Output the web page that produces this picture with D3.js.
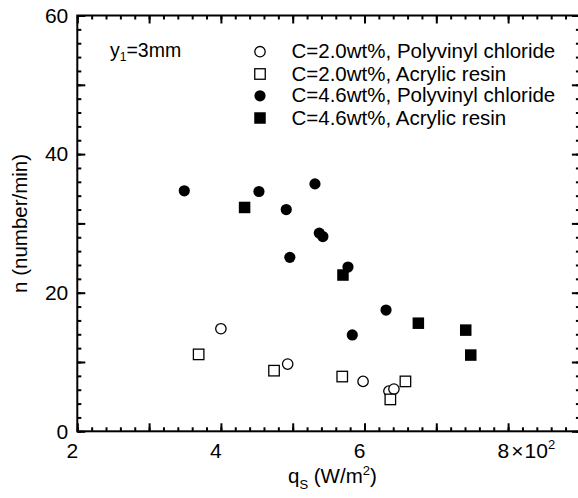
<!DOCTYPE html>
<html>
<head>
<meta charset="utf-8">
<title>n vs qs</title>
<script src="https://cdn.jsdelivr.net/npm/d3@7/dist/d3.min.js"></script>
<style>
body { margin: 0; background: #fff; }
svg { display: block; font-family: "Liberation Sans", Arial, Helvetica, sans-serif; }
</style>
</head>
<body>
<script>
// data (x in 10^2 W/m2, y in number/min)
var pvc20X = [4.00, 4.93, 5.98, 6.34, 6.41];
var pvc20Y = [14.8, 9.7, 7.2, 5.8, 6.1];
var acr20X = [3.69, 4.74, 5.69, 6.36, 6.57];
var acr20Y = [11.1, 8.75, 7.9, 4.6, 7.2];
var pvc46X = [3.49, 4.53, 4.91, 4.96, 5.31, 5.37, 5.42, 5.77, 5.83, 6.30];
var pvc46Y = [34.7, 34.6, 32.0, 25.1, 35.7, 28.6, 28.1, 23.7, 13.9, 17.5];
var acr46X = [4.33, 5.70, 6.75, 7.41, 7.48];
var acr46Y = [32.3, 22.55, 15.6, 14.6, 11.0];

var legendLabels = ["C=2.0wt%, Polyvinyl chloride", "C=2.0wt%, Acrylic resin",
                    "C=4.6wt%, Polyvinyl chloride", "C=4.6wt%, Acrylic resin"];
var xLabelTicks = [2, 4, 6, 8];
var yLabelTicks = [0, 20, 40, 60];

var series = [
  {xs: pvc20X, ys: pvc20Y, shape: "circle", fill: false},
  {xs: acr20X, ys: acr20Y, shape: "square", fill: false},
  {xs: pvc46X, ys: pvc46Y, shape: "circle", fill: true},
  {xs: acr46X, ys: acr46Y, shape: "square", fill: true}
];

var width = 578, height = 498;
var svg = d3.select("body").append("svg")
    .attr("width", width)
    .attr("height", height);

var x = d3.scaleLinear().domain([2, 9]).range([77.3, 579.9]);
var y = d3.scaleLinear().domain([0, 60]).range([431.3, 15.5]);

var majX = d3.range(2, 9.01, 1), minX = d3.range(2, 9.01, 0.2);
var majY = d3.range(0, 60.1, 10), minY = d3.range(0, 60.1, 2);

function tickStyle(g) {
  g.select(".domain").remove();
  g.selectAll("line").attr("stroke", "#000").attr("stroke-width", 2);
  g.selectAll("text").attr("fill", "#000").style("font-size", "21px");
}

// minor ticks, all four sides, pointing inward
svg.append("g").attr("transform", "translate(0," + y(0) + ")")
  .call(d3.axisBottom(x).tickValues(minX).tickSize(-4).tickFormat("")).call(tickStyle);
svg.append("g").attr("transform", "translate(0," + y(60) + ")")
  .call(d3.axisTop(x).tickValues(minX).tickSize(-4).tickFormat("")).call(tickStyle);
svg.append("g").attr("transform", "translate(" + x(2) + ",0)")
  .call(d3.axisLeft(y).tickValues(minY).tickSize(-4).tickFormat("")).call(tickStyle);
svg.append("g").attr("transform", "translate(" + x(9) + ",0)")
  .call(d3.axisRight(y).tickValues(minY).tickSize(-4).tickFormat("")).call(tickStyle);

// major ticks
var xb = svg.append("g").attr("transform", "translate(0," + y(0) + ")")
  .call(d3.axisBottom(x).tickValues(majX).tickSize(-8).tickPadding(12)
    .tickFormat(function(d){ return xLabelTicks.indexOf(d) >= 0 ? d : ""; }))
  .call(tickStyle);
xb.selectAll("text").attr("dx", -5.5);
svg.append("g").attr("transform", "translate(0," + y(60) + ")")
  .call(d3.axisTop(x).tickValues(majX).tickSize(-8).tickFormat("")).call(tickStyle);
svg.append("g").attr("transform", "translate(" + x(2) + ",0)")
  .call(d3.axisLeft(y).tickValues(majY).tickSize(-8).tickPadding(9)
    .tickFormat(function(d){ return yLabelTicks.indexOf(d) >= 0 ? d : ""; }))
  .call(tickStyle);
svg.append("g").attr("transform", "translate(" + x(9) + ",0)")
  .call(d3.axisRight(y).tickValues(majY).tickSize(-8).tickFormat("")).call(tickStyle);

// "8x10^2" label
xb.selectAll("text").filter(function(d){ return d === 8; }).each(function(){
  var t = d3.select(this).text("").attr("text-anchor", "start").attr("dx", -11);
  t.append("tspan").text("8");
  t.append("tspan").attr("dx", 2).style("font-weight", "300").text("\u00d7");
  t.append("tspan").attr("dx", 1).text("10");
  t.append("tspan").attr("dy", -9).style("font-size", "13px").text("2");
});

// frame
svg.append("rect")
  .attr("x", x(2)).attr("y", y(60))
  .attr("width", x(9) - x(2)).attr("height", y(0) - y(60))
  .attr("fill", "none").attr("stroke", "#000").attr("stroke-width", 2);

function marker(g, shape, fill, cx, cy) {
  if (shape === "circle") {
    g.append("circle").attr("cx", cx).attr("cy", cy)
      .attr("r", fill ? 5.6 : 5.2)
      .attr("fill", fill ? "#000" : "#fff")
      .attr("stroke", "#000").attr("stroke-width", fill ? 0 : 1.3);
  } else {
    var s = fill ? 11.5 : 10.5;
    g.append("rect").attr("x", cx - s / 2).attr("y", cy - s / 2)
      .attr("width", s).attr("height", s)
      .attr("fill", fill ? "#000" : "#fff")
      .attr("stroke", "#000").attr("stroke-width", fill ? 0 : 1.3);
  }
}

var pts = svg.append("g");
series.forEach(function(s){
  s.xs.forEach(function(v, i){
    marker(pts, s.shape, s.fill, x(v), y(s.ys[i]));
  });
});

// legend
var legY = [51.7, 74, 95.8, 118];
var leg = svg.append("g");
series.forEach(function(s, i){
  marker(leg, s.shape, s.fill, 260, legY[i]);
  leg.append("text").attr("x", 291.5).attr("y", legY[i] + 6.5)
    .style("font-size", "20.5px").text(legendLabels[i]);
});

// annotation y1=3mm
var ann = svg.append("text").attr("x", 110).attr("y", 56.5).style("font-size", "19.5px");
ann.append("tspan").text("y");
ann.append("tspan").attr("dy", 4).style("font-size", "12px").text("1");
ann.append("tspan").attr("dy", -4).text("=3mm");

// axis titles
var xt = svg.append("text").attr("x", 288).attr("y", 483).style("font-size", "20.5px");
xt.append("tspan").text("q");
xt.append("tspan").attr("dy", 6).style("font-size", "13px").text("S");
xt.append("tspan").attr("dy", -6).text(" (W/m");
xt.append("tspan").attr("dy", -8).style("font-size", "13px").text("2");
xt.append("tspan").attr("dy", 8).text(")");

svg.append("text")
  .attr("transform", "translate(27," + ((y(0) + y(60)) / 2) + ") rotate(-90)")
  .attr("text-anchor", "middle")
  .style("font-size", "20.5px")
  .text("n (number/min)");
</script>
</body>
</html>
